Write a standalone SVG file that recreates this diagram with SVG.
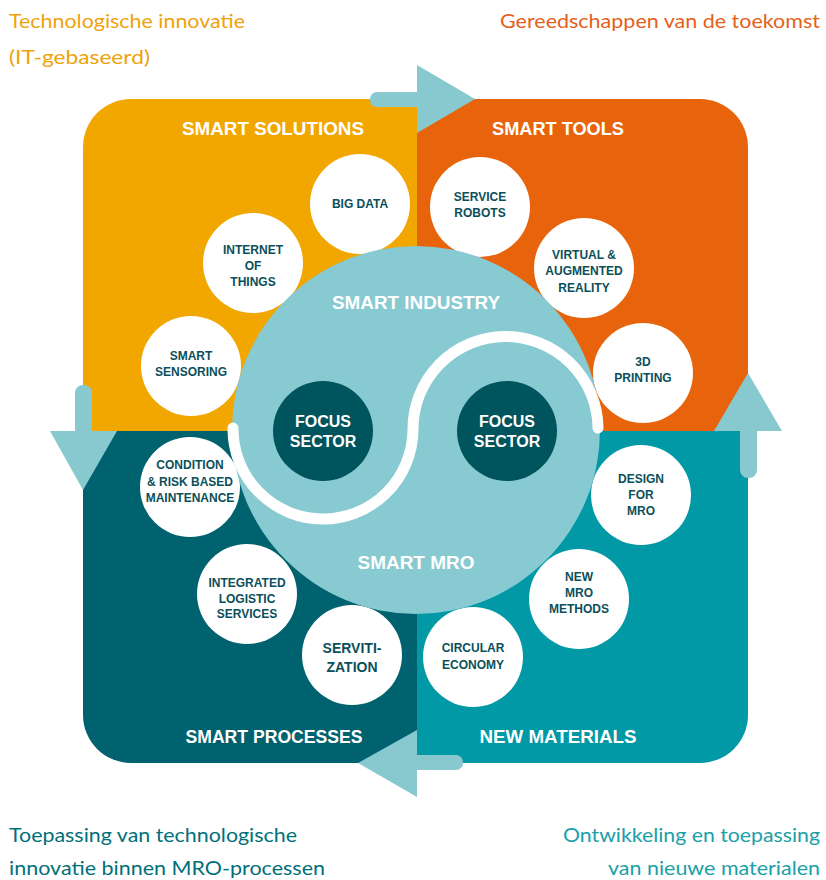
<svg xmlns="http://www.w3.org/2000/svg" width="826" height="880" viewBox="0 0 826 880">
<style>
.cap{font-family:Lato,"Liberation Sans",Arial,sans-serif;font-weight:400;font-size:20px;}
.ttl{font-family:"Liberation Sans",Arial,sans-serif;font-size:18px;font-weight:bold;fill:#fff;text-anchor:middle;}
.nd circle{fill:#fff;}
.nd text{font-family:"Liberation Sans",Arial,sans-serif;font-size:12px;font-weight:bold;fill:#0b4f5b;text-anchor:middle;}
.fc circle{fill:#00545e;}
.fc text{font-family:"Liberation Sans",Arial,sans-serif;font-size:16px;font-weight:bold;fill:#fff;text-anchor:middle;}
.arr{fill:#88c9d0;}
</style>
<rect width="826" height="880" fill="#fff"/>
<g id="quadrants">
<path id="q-solutions" d="M83 431V147A48 48 0 0 1 131 99H417V431Z" fill="#f2a600"/>
<path id="q-tools" d="M417 99H700A48 48 0 0 1 748 147V431H417Z" fill="#e8640c"/>
<path id="q-processes" d="M83 431H417V763H131A48 48 0 0 1 83 715Z" fill="#00626e"/>
<path id="q-materials" d="M417 431H748V715A48 48 0 0 1 700 763H417Z" fill="#0099a5"/>
</g>
<g id="connectors">
<rect class="arr" x="370" y="92" width="60" height="15" rx="7"/>
<polygon class="arr" points="417,65 475,99 417,133"/>
<rect class="arr" x="75" y="385" width="17" height="55" rx="8"/>
<polygon class="arr" points="50,431 117,431 83,490"/>
<rect class="arr" x="740" y="420" width="17" height="58" rx="8"/>
<polygon class="arr" points="714,431 782,431 748,373"/>
<rect class="arr" x="405" y="755" width="58" height="15" rx="7"/>
<polygon class="arr" points="417,730 417,797 358,763"/>
</g>
<g id="titles">
<text class="ttl" x="273" y="135" textLength="182" lengthAdjust="spacingAndGlyphs">SMART SOLUTIONS</text>
<text class="ttl" x="558" y="135" textLength="132" lengthAdjust="spacingAndGlyphs">SMART TOOLS</text>
<text class="ttl" x="274" y="743" textLength="177" lengthAdjust="spacingAndGlyphs">SMART PROCESSES</text>
<text class="ttl" x="558" y="743" textLength="157" lengthAdjust="spacingAndGlyphs">NEW MATERIALS</text>
</g>
<g id="big-data" class="nd"><circle cx="360" cy="204" r="50"/><text x="360" y="208">BIG DATA</text></g>
<g id="iot" class="nd"><circle cx="253" cy="263" r="50"/><text x="253" y="254">INTERNET</text><text x="253" y="270">OF</text><text x="253" y="286">THINGS</text></g>
<g id="smart-sensoring" class="nd"><circle cx="191" cy="366" r="50"/><text x="191" y="360">SMART</text><text x="191" y="376">SENSORING</text></g>
<g id="service-robots" class="nd"><circle cx="480" cy="207" r="50"/><text x="480" y="201">SERVICE</text><text x="480" y="217">ROBOTS</text></g>
<g id="virtual-reality" class="nd"><circle cx="584" cy="268" r="50"/><text x="584" y="259">VIRTUAL &amp;</text><text x="584" y="275">AUGMENTED</text><text x="584" y="292">REALITY</text></g>
<g id="printing" class="nd"><circle cx="643" cy="373" r="50"/><text x="643" y="366">3D</text><text x="643" y="382">PRINTING</text></g>
<g id="condition" class="nd"><circle cx="190" cy="487" r="50"/><text x="190" y="469">CONDITION</text><text x="190" y="486">&amp; RISK BASED</text><text x="190" y="502">MAINTENANCE</text></g>
<g id="logistic" class="nd"><circle cx="247" cy="594" r="50"/><text x="247" y="587">INTEGRATED</text><text x="247" y="603">LOGISTIC</text><text x="247" y="618">SERVICES</text></g>
<g id="servitization" class="nd"><circle cx="352" cy="655" r="50"/><text x="352" y="653" style="font-size:14px">SERVITI-</text><text x="352" y="672" style="font-size:14px">ZATION</text></g>
<g id="design-mro" class="nd"><circle cx="641" cy="495" r="50"/><text x="641" y="483">DESIGN</text><text x="641" y="499">FOR</text><text x="641" y="515">MRO</text></g>
<g id="new-mro" class="nd"><circle cx="579" cy="599" r="50"/><text x="579" y="581">NEW</text><text x="579" y="597">MRO</text><text x="579" y="613">METHODS</text></g>
<g id="circular" class="nd"><circle cx="473" cy="657" r="50"/><text x="473" y="652">CIRCULAR</text><text x="473" y="669">ECONOMY</text></g>
<g id="center">
<circle cx="416" cy="430" r="184" fill="#88cad1"/>
<path d="M233 428A90 90 0 0 0 413 430A90 90 0 0 1 598 428" fill="none" stroke="#fff" stroke-width="11" stroke-linecap="round"/>
<text class="ttl" x="416" y="309" textLength="168" lengthAdjust="spacingAndGlyphs">SMART INDUSTRY</text>
<text class="ttl" x="416" y="569" textLength="117" lengthAdjust="spacingAndGlyphs">SMART MRO</text>
</g>
<g id="focus-left" class="fc"><circle cx="323" cy="431" r="50"/><text x="323" y="427">FOCUS</text><text x="323" y="447">SECTOR</text></g>
<g id="focus-right" class="fc"><circle cx="507" cy="431" r="50"/><text x="507" y="427">FOCUS</text><text x="507" y="447">SECTOR</text></g>
<g id="captions">
<text class="cap" x="9" y="28" fill="#f0a20a" textLength="236" lengthAdjust="spacingAndGlyphs">Technologische innovatie</text>
<text class="cap" x="9" y="64" fill="#f0a20a" textLength="141" lengthAdjust="spacingAndGlyphs">(IT-gebaseerd)</text>
<text class="cap" x="820" y="28" fill="#e5601a" text-anchor="end" textLength="320" lengthAdjust="spacingAndGlyphs">Gereedschappen van de toekomst</text>
<text class="cap" x="9" y="842" fill="#00707a" textLength="288" lengthAdjust="spacingAndGlyphs">Toepassing van technologische</text>
<text class="cap" x="9" y="875" fill="#00707a" textLength="316" lengthAdjust="spacingAndGlyphs">innovatie binnen MRO-processen</text>
<text class="cap" x="820" y="842" fill="#1aa0a8" text-anchor="end" textLength="257" lengthAdjust="spacingAndGlyphs">Ontwikkeling en toepassing</text>
<text class="cap" x="820" y="875" fill="#1aa0a8" text-anchor="end" textLength="212" lengthAdjust="spacingAndGlyphs">van nieuwe materialen</text>
</g>
</svg>
